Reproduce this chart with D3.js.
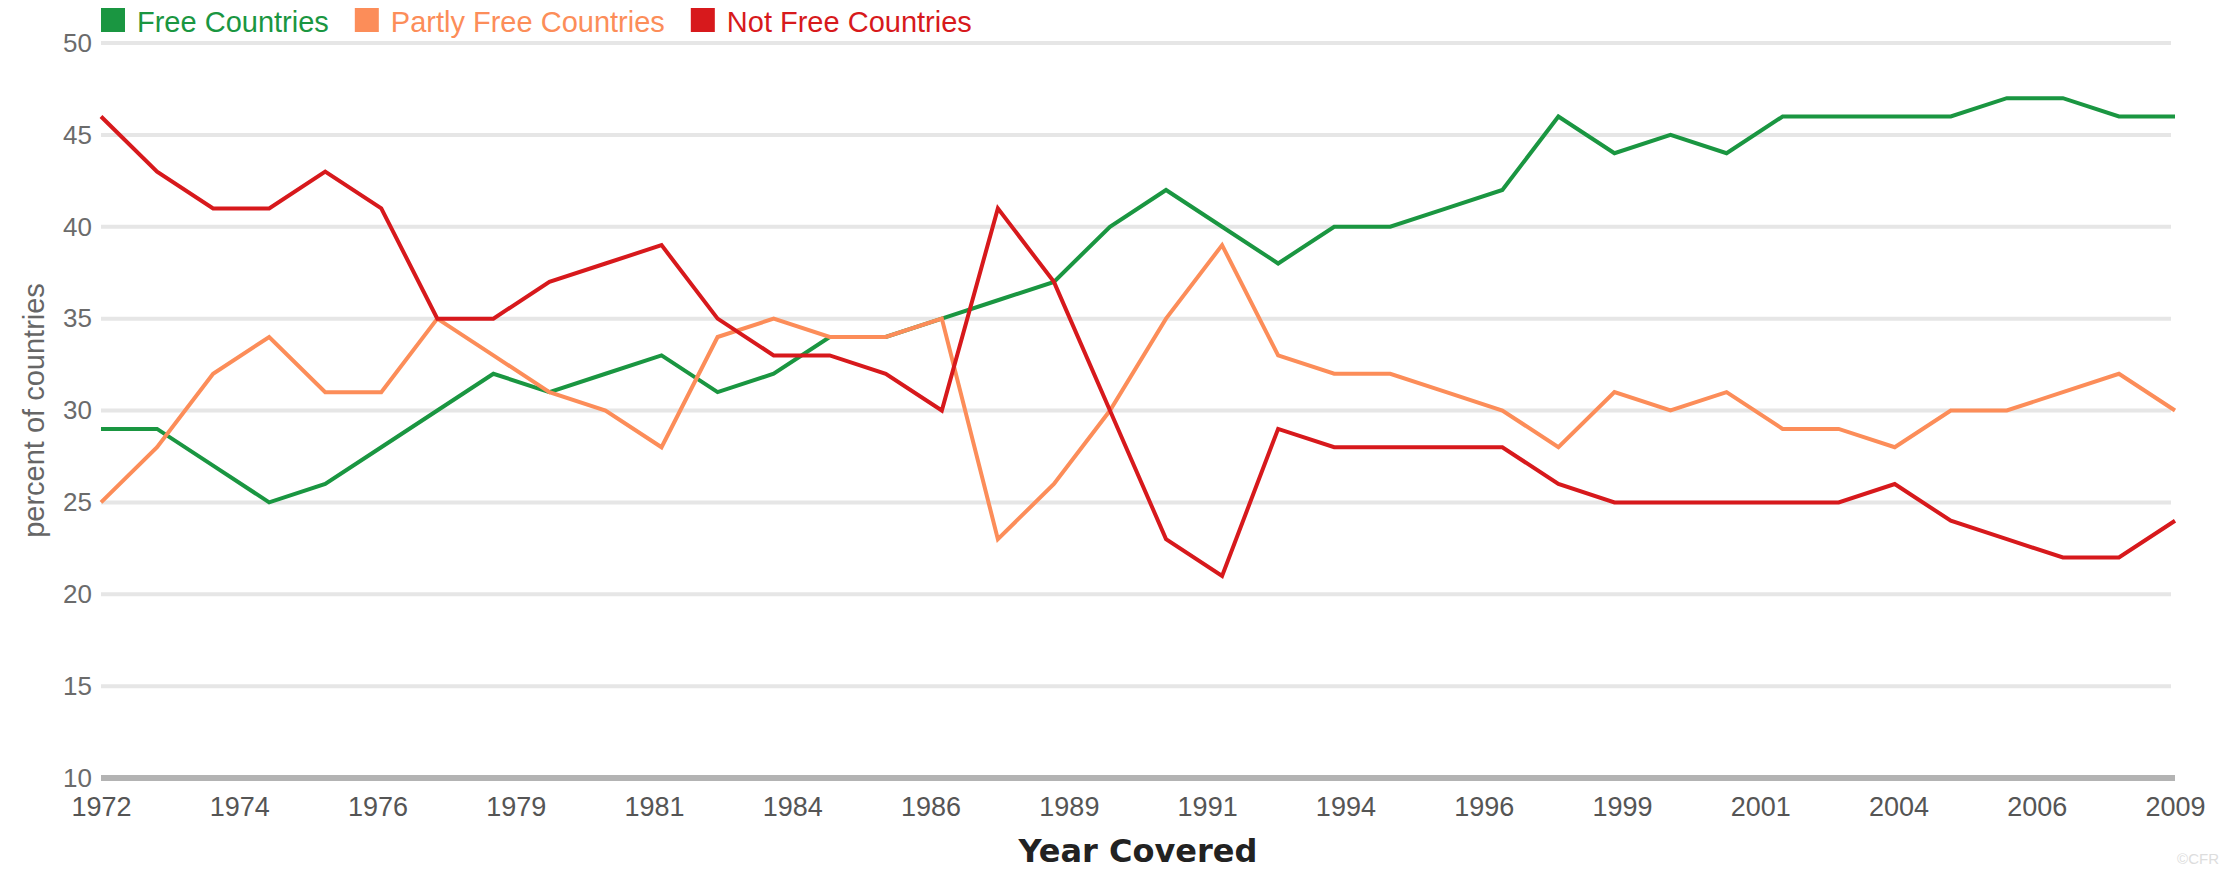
<!DOCTYPE html>
<html>
<head>
<meta charset="utf-8">
<script src="https://cdn.jsdelivr.net/npm/d3@7"></script>
<style>
	html, body { margin: 0; padding: 0; background: #ffffff; }
	svg { display: block; }
</style>
</head>
<body>
<div id="chart"></div>
<script>

	//----------------------------
	// Data (percent of countries)
	//----------------------------

	var years = [1972, 1973, 1974, 1975, 1976, 1977, 1978, 1979, 1980, 1981,
		1982, 1983, 1984, 1985, 1986, 1987, 1988, 1989, 1990, 1991,
		1992, 1993, 1994, 1995, 1996, 1997, 1998, 1999, 2000, 2001,
		2002, 2003, 2004, 2005, 2006, 2007, 2008, 2009];

	var freeValues = [29, 29, 27, 25, 26, 28, 30, 32, 31, 32,
		33, 31, 32, 34, 34, 35, 36, 37, 40, 42,
		40, 38, 40, 40, 41, 42, 46, 44, 45, 44,
		46, 46, 46, 46, 47, 47, 46, 46];

	var partlyValues = [25, 28, 32, 34, 31, 31, 35, 33, 31, 30,
		28, 34, 35, 34, 34, 35, 23, 26, 30, 35,
		39, 33, 32, 32, 31, 30, 28, 31, 30, 31,
		29, 29, 28, 30, 30, 31, 32, 30];

	var notFreeValues = [46, 43, 41, 41, 43, 41, 35, 35, 37, 38,
		39, 35, 33, 33, 32, 30, 41, 37, 30, 23,
		21, 29, 28, 28, 28, 28, 26, 25, 25, 25,
		25, 25, 26, 24, 23, 22, 22, 24];

	var seriesNames = ["Free Countries", "Partly Free Countries", "Not Free Countries"];
	var seriesColors = ["#1a9641", "#fc8d59", "#d7191c"];

	var xTickLabels = ["1972", "1974", "1976", "1979", "1981", "1984", "1986", "1989",
		"1991", "1994", "1996", "1999", "2001", "2004", "2006", "2009"];
	var yTicks = [10, 15, 20, 25, 30, 35, 40, 45, 50];

	//----------------------------
	// Layout
	//----------------------------

	var totwidth = 2239,
		totheight = 869,
		paddingLeft = 101,
		paddingRight = 64,
		paddingTop = 43,
		paddingBottom = 91;

	var series = [freeValues, partlyValues, notFreeValues].map(function(vals, i) {
		return {
			name: seriesNames[i],
			color: seriesColors[i],
			values: vals.map(function(v, j) { return {year: years[j], value: v}; })
		};
	});

	var svg = d3.select("#chart").append("svg")
		.attr("width", totwidth)
		.attr("height", totheight);

	// Scales

	var x = d3.scaleLinear()
		.domain(d3.extent(years))
		.range([paddingLeft, totwidth - paddingRight]);

	var y = d3.scaleLinear()
		.domain([d3.min(yTicks), d3.max(yTicks)])
		.range([totheight - paddingBottom, paddingTop]);

	// x ticks sit evenly across the domain, labels are the floored years

	var xTickValues = xTickLabels.map(function(d, i) {
		var dom = x.domain();
		return dom[0] + i * (dom[1] - dom[0]) / (xTickLabels.length - 1);
	});

	// Horizontal grid lines

	svg.append("g")
		.attr("class", "grid")
		.selectAll("line").data(yTicks.slice(1)).enter().append("line")
			.attr("x1", x.range()[0])
			.attr("x2", x.range()[1] - 4)
			.attr("y1", function(d) { return y(d); })
			.attr("y2", function(d) { return y(d); })
			.attr("stroke", "#e6e6e6")
			.attr("stroke-width", 4);

	// Bottom axis line

	svg.append("line")
		.attr("x1", x.range()[0])
		.attr("x2", x.range()[1])
		.attr("y1", y(yTicks[0]))
		.attr("y2", y(yTicks[0]))
		.attr("stroke", "#b3b3b3")
		.attr("stroke-width", 6);

	// Y axis labels

	var yAxis = d3.axisLeft(y)
		.tickValues(yTicks)
		.tickSize(0)
		.tickPadding(9);

	svg.append("g")
		.attr("class", "y-axis")
		.attr("transform", "translate(" + paddingLeft + ",0)")
		.call(yAxis)
		.call(function(g) { g.select(".domain").remove(); })
		.selectAll("text")
			.attr("font-family", "'Liberation Sans', Arial, sans-serif")
			.attr("font-size", 26)
			.attr("fill", "#6b6b6b");

	// X axis labels

	var xAxis = d3.axisBottom(x)
		.tickValues(xTickValues)
		.tickFormat(function(d, i) { return xTickLabels[i]; })
		.tickSize(0)
		.tickPadding(19);

	svg.append("g")
		.attr("class", "x-axis")
		.attr("transform", "translate(0," + y(yTicks[0]) + ")")
		.call(xAxis)
		.call(function(g) { g.select(".domain").remove(); })
		.selectAll("text")
			.attr("font-family", "'Liberation Sans', Arial, sans-serif")
			.attr("font-size", 27)
			.attr("fill", "#555555");

	// Axis titles

	svg.append("text")
		.attr("x", (x.range()[0] + x.range()[1]) / 2)
		.attr("y", 862)
		.attr("text-anchor", "middle")
		.attr("font-family", "'DejaVu Sans', Verdana, sans-serif")
		.attr("font-weight", "bold")
		.attr("font-size", 32)
		.attr("fill", "#222222")
		.text("Year Covered");

	svg.append("text")
		.attr("transform", "translate(44," + ((y.range()[0] + y.range()[1]) / 2) + ") rotate(-90)")
		.attr("text-anchor", "middle")
		.attr("font-family", "'Liberation Sans', Arial, sans-serif")
		.attr("font-size", 29)
		.attr("fill", "#666666")
		.text("percent of countries");

	// Lines

	var linefun = d3.line()
		.x(function(d) { return x(d.year); })
		.y(function(d) { return y(d.value); });

	svg.append("g")
			.attr("class", "lines")
		.selectAll("path").data(series).enter().append("path")
			.attr("fill", "none")
			.attr("stroke", function(d) { return d.color; })
			.attr("stroke-width", 4)
			.attr("stroke-linejoin", "miter")
			.attr("d", function(d) { return linefun(d.values); });

	// Legend

	var legend = svg.append("g").attr("class", "legend");
	var lx = paddingLeft;
	series.forEach(function(s) {
		legend.append("rect")
			.attr("x", lx)
			.attr("y", 8)
			.attr("width", 24)
			.attr("height", 24)
			.attr("fill", s.color);
		var t = legend.append("text")
			.attr("x", lx + 36)
			.attr("y", 32)
			.attr("font-family", "'Liberation Sans', Arial, sans-serif")
			.attr("font-size", 29)
			.attr("fill", s.color)
			.text(s.name);
		lx += 36 + t.node().getComputedTextLength() + 26;
	});

	// Source mark

	svg.append("text")
		.attr("x", totwidth - 20)
		.attr("y", 864)
		.attr("text-anchor", "end")
		.attr("font-family", "'Liberation Sans', Arial, sans-serif")
		.attr("font-size", 15)
		.attr("fill", "#dddddd")
		.text("©CFR");

</script>
</body>
</html>
